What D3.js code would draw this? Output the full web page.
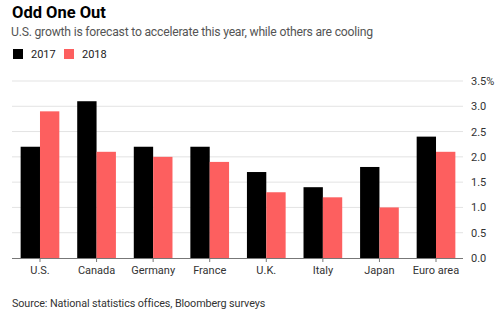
<!DOCTYPE html>
<html><head><meta charset="utf-8">
<script src="https://cdn.jsdelivr.net/npm/d3@7"></script>
<style>body{margin:0;background:#fff;} text{font-family:Roboto, "Noto Sans", sans-serif;}</style>
</head><body>
<svg id="c" width="500" height="321"></svg>
<script>
const categories = ["U.S.","Canada","Germany","France","U.K.","Italy","Japan","Euro area"];
const series = ["2017","2018"];
const values2017 = [2.2,3.1,2.2,2.2,1.7,1.4,1.8,2.4];
const values2018 = [2.9,2.1,2.0,1.9,1.3,1.2,1.0,2.1];
const yTicks = [0,0.5,1.0,1.5,2.0,2.5,3.0,3.5];
const colors = ["#000000","#fd5f5f"];

const svg = d3.select("#c");
const x = d3.scaleBand().domain(categories).range([11.7,464.3]).paddingInner(0.316).paddingOuter(0.158);
const xs = d3.scaleBand().domain(series).range([0,x.bandwidth()]);
const y = d3.scaleLinear().domain([0,3.5]).range([258,81]);

svg.append("text").attr("x",12).attr("y",18).attr("font-size",16.5).attr("font-weight",700).attr("fill","#000").text("Odd One Out");
svg.append("text").attr("x",11).attr("y",36).attr("font-size",12.2).attr("fill","#555").attr("letter-spacing",-0.22).text("U.S. growth is forecast to accelerate this year, while others are cooling");

const leg = svg.append("g");
series.forEach((s,i)=>{
  const lx = [13,64][i];
  leg.append("rect").attr("x",lx).attr("y",49).attr("width",10).attr("height",10).attr("fill",colors[i]);
  leg.append("text").attr("x",lx+18).attr("y",58).attr("font-size",11).attr("fill","#222").text(s);
});

// gridlines
svg.append("g").selectAll("line").data(yTicks.slice(1)).join("line")
  .attr("x1",12).attr("x2",463).attr("y1",d=>y(d)).attr("y2",d=>y(d))
  .attr("stroke","#e3e3e3").attr("stroke-width",1);

// y labels
svg.append("g").selectAll("text").data(yTicks).join("text")
  .attr("x",471).attr("y",d=>y(d)+4).attr("font-size",11).attr("fill","#333")
  .text((d,i)=> d.toFixed(1) + (i===yTicks.length-1?"%":""));

// bars
const g = svg.append("g");
categories.forEach((c,i)=>{
  [values2017[i],values2018[i]].forEach((v,j)=>{
    g.append("rect").attr("x",x(c)+xs(series[j])).attr("width",xs.bandwidth())
      .attr("y",y(v)).attr("height",y(0)-y(v)).attr("fill",colors[j]);
  });
});

// x axis
const xa = d3.axisBottom(x).tickSize(4).tickSizeOuter(0);
const ax = svg.append("g").attr("transform","translate(0,258)").call(xa);
ax.select(".domain").attr("stroke","#777").attr("d","M12,0.5H463");
ax.selectAll(".tick line").attr("stroke","#777");
ax.selectAll(".tick text").attr("font-size",11).attr("fill","#333").attr("dy","0.9em").attr("y",6).style("font-family","Roboto, 'Noto Sans', sans-serif");

svg.append("text").attr("x",12).attr("y",307).attr("font-size",10.8).attr("fill","#333").attr("letter-spacing",-0.1).text("Source: National statistics offices, Bloomberg surveys");
</script>
</body></html>
